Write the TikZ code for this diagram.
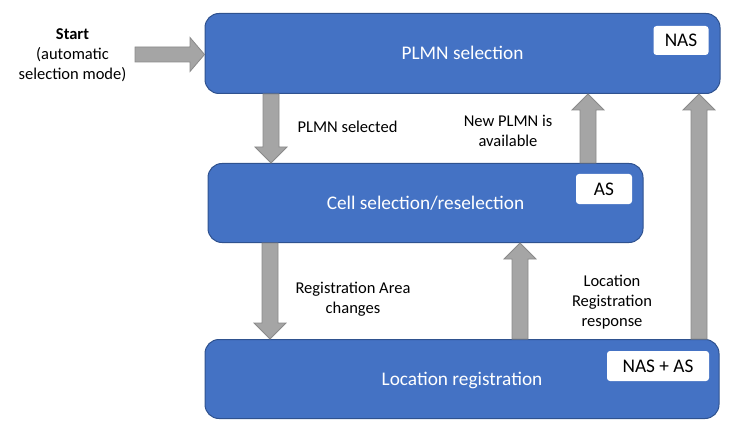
\documentclass[tikz,border=0pt]{standalone}
\usepackage{fontspec}
\setmainfont{Carlito}
\usetikzlibrary{calc}
\definecolor{boxblue}{HTML}{4472C4}
\definecolor{boxedge}{HTML}{2F528F}
\definecolor{arrgray}{HTML}{A5A5A5}
\definecolor{arredge}{HTML}{8A8A8A}
\tikzset{
  bluebox/.style={draw=boxedge, line width=1pt, fill=boxblue, rounded corners=14pt, text=white, font=\fontsize{19.3}{23}\selectfont, inner sep=0pt, text height=12.5pt, text depth=0pt},
  tagbox/.style={fill=white, rounded corners=3pt, text=black, font=\fontsize{19.3}{23}\selectfont, inner sep=0pt, text height=12.5pt, text depth=0pt},
  garrow/.style={draw=arredge, line width=0.8pt, fill=arrgray, line join=miter},
  lbl/.style={align=center, text=black, font=\fontsize{16.5}{20}\selectfont, inner sep=0pt}
}
% #1 x centre, #2 tail anchor, #3 tip anchor, #4 head offset (negative = points down)
\newcommand\vblock[4]{%
  \draw[garrow] (#1-8,0 |- #2) -- (#1+8,0 |- #2) -- ($(#1+8,0 |- #3)+(0,#4)$) -- ($(#1+16,0 |- #3)+(0,#4)$) -- (#1,0 |- #3) -- ($(#1-16,0 |- #3)+(0,#4)$) -- ($(#1-8,0 |- #3)+(0,#4)$) -- cycle;}
\begin{document}
\begin{tikzpicture}[x=1pt,y=-1pt]
\useasboundingbox (0,0) rectangle (750,433);
% main boxes
\node[bluebox, minimum width=515pt, minimum height=80pt] (plmn) at (462.5,53.5) {PLMN selection};
\node[bluebox, minimum width=435pt, minimum height=79pt] (cell) at (425.5,203) {Cell selection/reselection};
\node[bluebox, minimum width=514pt, minimum height=79pt] (loc) at (462,379) {Location registration};
% tags
\node[tagbox, minimum width=55pt, minimum height=29pt] (tnas) at (681,40.5) {NAS};
\node[tagbox, minimum width=56pt, minimum height=30pt] (tas) at (604,189) {AS};
\node[tagbox, minimum width=102pt, minimum height=30pt] (tnasas) at (658,366) {NAS + AS};
% start
\node[lbl] (start) at (72.5,55) {\textbf{Start}\\(automatic\\selection mode)};
\coordinate (starttail) at (135,54.5);
\draw[garrow] (starttail) ++(0,-7.5) -- ++(55,0) -- ++(0,-9.5) -- ($(plmn.west |- starttail)$) -- ($(starttail)+(55,17)$) -- ++(0,-9.5) -- ++(-55,0) -- cycle;
% vertical arrows
\vblock{271}{plmn.south}{cell.north}{-16}
\vblock{588}{cell.north}{plmn.south}{16}
\vblock{270}{cell.south}{loc.north}{-16}
\vblock{520}{loc.north}{cell.south}{16}
\vblock{699}{loc.north}{plmn.south}{16}
% labels
\node[lbl] (l1) at (347.5,126.5) {PLMN selected};
\node[lbl] (l2) at (508,131) {New PLMN is\\available};
\node[lbl] (l3) at (353,299) {Registration Area\\changes};
\node[lbl] (l4) at (612,302) {Location\\Registration\\response};
\end{tikzpicture}
\end{document}
